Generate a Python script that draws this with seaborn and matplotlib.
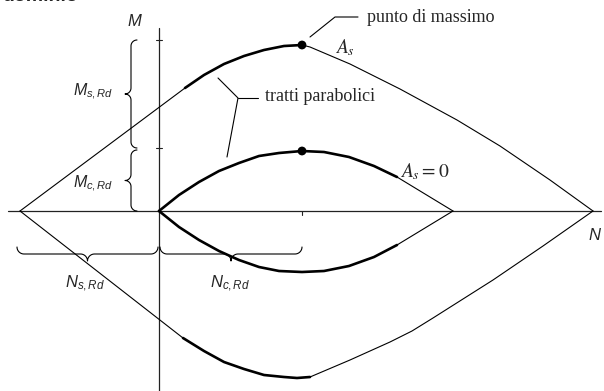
import numpy as np
import seaborn as sns
from matplotlib import pyplot as plt

# axis units are pixels of the sketch: N to the right of the M axis, M above the N axis
# outer domain (A_s), upper branch
big_up_line_n = [-139, 26]
big_up_line_m = [0, 123]
big_up_par_n = [26, 45, 65, 85, 105, 125, 143]
big_up_par_m = [123, 136, 147, 155, 161, 165, 166]
big_up_right_n = [143, 151, 191, 241, 298, 341, 391, 434]
big_up_right_m = [166, 164, 147, 122, 91, 65, 31, 0]

# outer domain, lower branch
big_lo_line_n = [-139, 24]
big_lo_line_m = [0, -127]
big_lo_par_n = [24, 45, 65, 85, 105, 125, 138, 151]
big_lo_par_m = [-127, -140, -151, -158, -164, -166, -167, -166]
big_lo_right_n = [151, 191, 231, 253, 274, 304, 334, 384, 434]
big_lo_right_m = [-166, -149, -131, -120, -107, -88, -69, -35, 0]

# inner domain (A_s = 0)
small_par_n = [0, 20, 40, 60, 80, 100, 120, 143, 165, 190, 215, 238]
small_up_m = [0, 16, 29, 40, 48, 55, 58, 60, 59, 54, 45, 34]
small_lo_m = [0, -16, -29, -40, -49, -56, -60, -61, -60, -55, -46, -34]
small_end_n = [238, 294]
small_up_end_m = [34, 0]
small_lo_end_m = [-34, 0]

max_n = [143, 143]
max_m = [166, 60]

M_s_rd = (63, 171)
M_c_rd = (0, 61)
N_s_rd = (-142, -1)
N_c_rd = (1, 143)

sns.set_style("white")
plt.rcParams['font.family'] = ['Liberation Sans', 'DejaVu Sans']
plt.rcParams['mathtext.fontset'] = 'custom'
plt.rcParams['mathtext.it'] = 'Liberation Sans:italic'
plt.rcParams['mathtext.rm'] = 'Liberation Sans'

fig = plt.figure(figsize=(6.04, 3.91), dpi=100)
ax = fig.add_axes([0, 0, 1, 1])
ax.set_xlim(-159, 445)
ax.set_ylim(-180, 211)
ax.axis('off')

thin, thick = 0.8, 1.9


def line(n, m, lw):
    sns.lineplot(x=n, y=m, sort=False, estimator=None, color='black', linewidth=lw, ax=ax)


def arc(cu, cv, r, a0, a1):
    th = np.linspace(a0, a1, 12)
    return list(cu + r * np.cos(th)), list(cv + r * np.sin(th))


def brace(a, b, pos, r, vertical=True):
    # curly bracket from a to b, stem at pos, tip pointing to the negative side
    mid = (a + b) / 2
    pu, pv = [], []
    for cu, cv, a0, a1 in [(pos + r, a + r, -np.pi / 2, -np.pi),
                           (pos - r, mid - r, 0, np.pi / 2),
                           (pos - r, mid + r, -np.pi / 2, 0),
                           (pos + r, b - r, np.pi, np.pi / 2)]:
        u, v = arc(cu, cv, r, a0, a1)
        pu += u
        pv += v
    if vertical:
        ax.plot(pu, pv, color='black', lw=0.8)
    else:
        ax.plot(pv, pu, color='black', lw=0.8)


# axes of the diagram
ax.plot([-151, 442], [0, 0], color='#222222', lw=0.9)
ax.plot([0, 0], [183, -182], color='#222222', lw=0.9)
for mv in (M_s_rd[1], M_s_rd[0]):
    ax.plot([-3, 3], [mv, mv], color='#222222', lw=0.8)
ax.plot([N_c_rd[1], N_c_rd[1]], [0, -4], color='#222222', lw=0.8)

# outer curve
line(big_up_line_n, big_up_line_m, thin)
line(big_up_par_n, big_up_par_m, thick)
line(big_up_right_n, big_up_right_m, thin)
line(big_lo_line_n, big_lo_line_m, thin)
line(big_lo_par_n, big_lo_par_m, thick)
line(big_lo_right_n, big_lo_right_m, thin)

# inner curve
line(small_par_n, small_up_m, thick)
line(small_par_n, small_lo_m, thick)
line(small_end_n, small_up_end_m, thin)
line(small_end_n, small_lo_end_m, thin)

sns.scatterplot(x=max_n, y=max_m, color='black', s=40, edgecolor='none', ax=ax, zorder=5)

# braces
brace(M_s_rd[0], M_s_rd[1], -28, 6, vertical=True)
brace(M_c_rd[0], M_c_rd[1], -28, 6, vertical=True)
brace(N_s_rd[0], N_s_rd[1], -43, 7, vertical=False)
brace(N_c_rd[0], N_c_rd[1], -43, 7, vertical=False)

# leaders
ax.plot([151, 176, 199], [174, 194, 194], color='black', lw=0.8)
ax.plot([59, 79, 68], [133, 113, 54], color='black', lw=0.8)
ax.plot([79, 99], [113, 113], color='black', lw=0.8)

# labels
sans = dict(va='baseline', ha='left', math_fontfamily='custom')
ax.text(-32, 185, '$M$', fontsize=12, **sans)
ax.text(429, -29, '$N$', fontsize=12, **sans)
ax.text(-86, 115, '$M_{s,Rd}$', fontsize=11.5, **sans)
ax.text(-86, 23, '$M_{c,Rd}$', fontsize=11.5, **sans)
ax.text(-94, -77, '$N_{s,Rd}$', fontsize=12, **sans)
ax.text(51, -77, '$N_{c,Rd}$', fontsize=12, **sans)

serif = dict(va='baseline', ha='left', math_fontfamily='stix')
ax.text(176, 158, '$A_s$', fontsize=14, **serif)
ax.text(241, 34, '$A_s = 0$', fontsize=14, **serif)
ax.text(208, 189, 'punto di massimo', fontsize=13, family='Liberation Serif', va='baseline')
ax.text(106, 110, 'tratti parabolici', fontsize=13, family='Liberation Serif', va='baseline')

# heading of the page above, only its lower edge shows
ax.text(-157, 210, 'dominio', fontsize=14, weight='bold', va='baseline', clip_on=True)

fig.savefig('out.png', dpi=100)
plt.close()
